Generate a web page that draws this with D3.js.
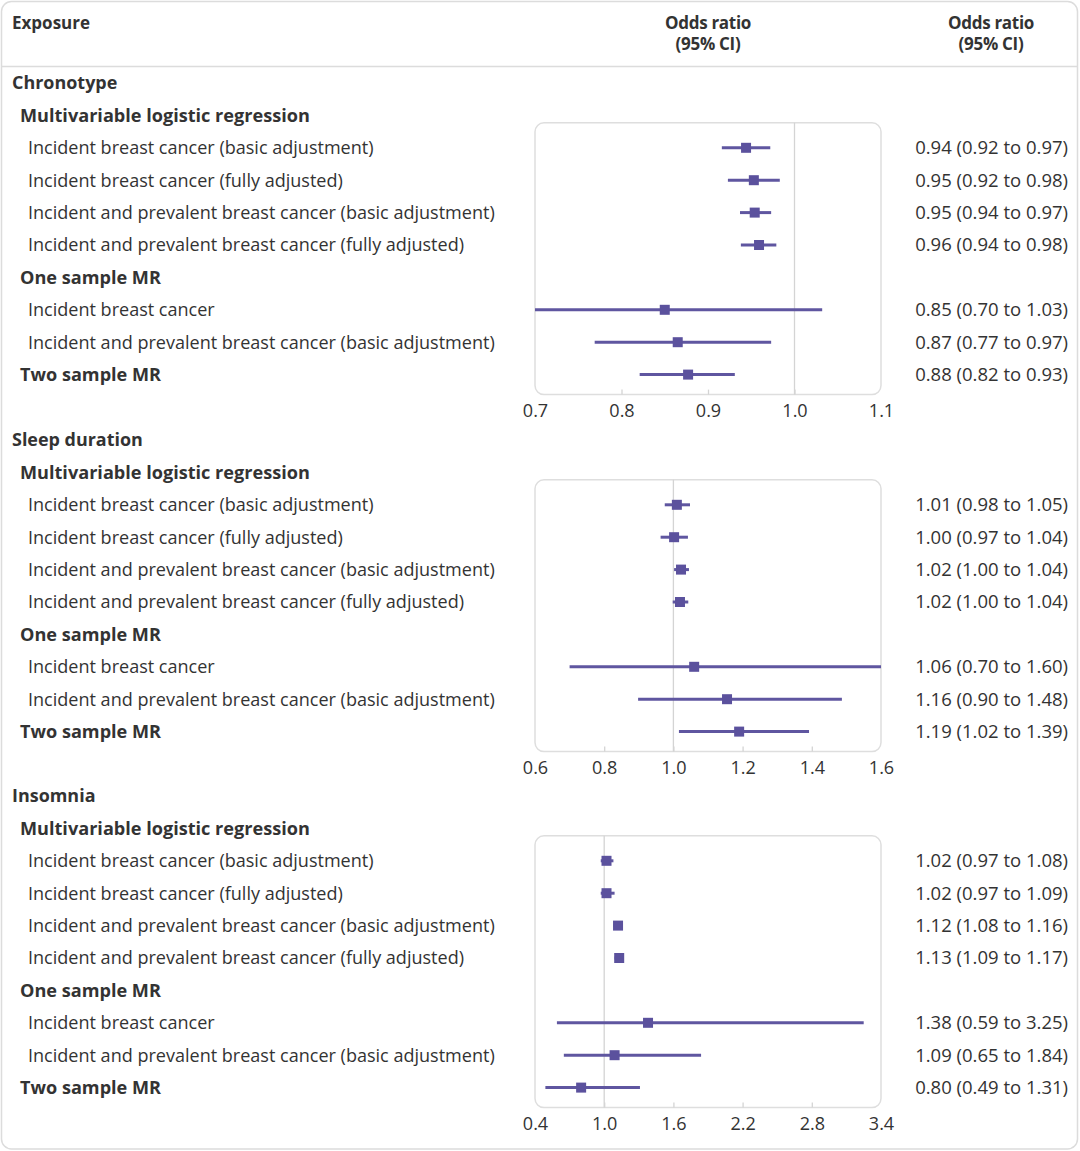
<!DOCTYPE html>
<html>
<head>
<meta charset="utf-8">
<script src="https://cdn.jsdelivr.net/npm/d3@7"></script>
<style>
  html, body { margin: 0; padding: 0; background: #fff; }
  svg { display: block; }
  text { font-family: "Open Sans", "Noto Sans", sans-serif; fill: #333; }
</style>
</head>
<body>
<svg id="chart" width="1080" height="1151"></svg>
<script>
// ---------------- DATA ----------------
const sections = ["Chronotype", "Sleep duration", "Insomnia"];

// row structure shared by all sections: "sub" = bold subheading without data,
// "item" = indented data row, "subdata" = bold subheading row that carries data
const rowLabels = [
  "Multivariable logistic regression",
  "Incident breast cancer (basic adjustment)",
  "Incident breast cancer (fully adjusted)",
  "Incident and prevalent breast cancer (basic adjustment)",
  "Incident and prevalent breast cancer (fully adjusted)",
  "One sample MR",
  "Incident breast cancer",
  "Incident and prevalent breast cancer (basic adjustment)",
  "Two sample MR"
];
const rowTypes = ["sub", "item", "item", "item", "item", "sub", "item", "item", "subdata"];

// plotted estimates and 95% CI per section (7 data rows each)
const chronotypeOR = [0.944, 0.953, 0.954, 0.959, 0.850, 0.865, 0.877];
const chronotypeLo = [0.916, 0.923, 0.937, 0.938, 0.700, 0.769, 0.821];
const chronotypeHi = [0.972, 0.983, 0.973, 0.979, 1.032, 0.973, 0.931];

const sleepOR = [1.010, 1.002, 1.022, 1.019, 1.060, 1.155, 1.190];
const sleepLo = [0.975, 0.963, 1.002, 0.998, 0.700, 0.898, 1.016];
const sleepHi = [1.048, 1.042, 1.045, 1.043, 1.600, 1.487, 1.392];

const insomniaOR = [1.02, 1.02, 1.12, 1.13, 1.38, 1.09, 0.80];
const insomniaLo = [0.97, 0.97, 1.08, 1.09, 0.59, 0.65, 0.49];
const insomniaHi = [1.08, 1.09, 1.16, 1.17, 3.25, 1.84, 1.31];

// printed estimates (95% CI) column
const chronotypeText = [
  "0.94 (0.92 to 0.97)", "0.95 (0.92 to 0.98)", "0.95 (0.94 to 0.97)", "0.96 (0.94 to 0.98)",
  "0.85 (0.70 to 1.03)", "0.87 (0.77 to 0.97)", "0.88 (0.82 to 0.93)"
];
const sleepText = [
  "1.01 (0.98 to 1.05)", "1.00 (0.97 to 1.04)", "1.02 (1.00 to 1.04)", "1.02 (1.00 to 1.04)",
  "1.06 (0.70 to 1.60)", "1.16 (0.90 to 1.48)", "1.19 (1.02 to 1.39)"
];
const insomniaText = [
  "1.02 (0.97 to 1.08)", "1.02 (0.97 to 1.09)", "1.12 (1.08 to 1.16)", "1.13 (1.09 to 1.17)",
  "1.38 (0.59 to 3.25)", "1.09 (0.65 to 1.84)", "0.80 (0.49 to 1.31)"
];

const chronotypeTicks = [0.7, 0.8, 0.9, 1.0, 1.1];
const sleepTicks = [0.6, 0.8, 1.0, 1.2, 1.4, 1.6];
const insomniaTicks = [0.4, 1.0, 1.6, 2.2, 2.8, 3.4];

const headerExposure = "Exposure";
const headerOR = ["Odds ratio", "(95% CI)"];

const sectionData = [
  { or: chronotypeOR, lo: chronotypeLo, hi: chronotypeHi, txt: chronotypeText, ticks: chronotypeTicks },
  { or: sleepOR, lo: sleepLo, hi: sleepHi, txt: sleepText, ticks: sleepTicks },
  { or: insomniaOR, lo: insomniaLo, hi: insomniaHi, txt: insomniaText, ticks: insomniaTicks }
];

// ---------------- LAYOUT ----------------
const W = 1080, H = 1151;
const svg = d3.select("#chart");
const markColor = "#5b519d";
const lineColor = "#5f56a0";

const plotX0 = 535, plotX1 = 881;
const rowStep = 32.4;
const sectionTop = [83, 440, 796];
const valueRight = 1068;

// outer frame
svg.append("rect")
  .attr("x", 1.5).attr("y", 1.5).attr("width", W - 4).attr("height", H - 3.5)
  .attr("rx", 10).attr("fill", "none").attr("stroke", "#dcdcdc").attr("stroke-width", 1.5);

// header
svg.append("line").attr("x1", 1.5).attr("x2", W - 2.5).attr("y1", 66.5).attr("y2", 66.5)
  .attr("stroke", "#dcdcdc").attr("stroke-width", 1.5);

svg.append("text").attr("x", 12).attr("y", 23).attr("dy", "0.35em")
  .style("font-weight", "700").style("font-size", "17px").text(headerExposure);

[708, 991].forEach(cx => {
  headerOR.forEach((t, i) => {
    svg.append("text").attr("x", cx).attr("y", 23 + i * 21).attr("dy", "0.35em")
      .attr("text-anchor", "middle").style("font-weight", "700").style("font-size", "17px")
      .style("letter-spacing", "-0.3px").text(t);
  });
});

// fit font size to target width of a reference label
function fitSize(str, weight, targetW, base) {
  const t = svg.append("text").style("font-size", base + "px").style("font-weight", weight).text(str);
  const w = t.node().getComputedTextLength();
  t.remove();
  return base * targetW / w;
}
const itemSize = fitSize("Incident and prevalent breast cancer (basic adjustment)", 400, 467, 17);
const subSize = fitSize("Multivariable logistic regression", 700, 290, 17);
const secSize = fitSize("Sleep duration", 700, 131, 17);
const valSize = fitSize("0.94 (0.92 to 0.97)", 400, 153, 17);
const tickSize = itemSize;

sections.forEach((secName, si) => {
  const d = sectionData[si];
  const top = sectionTop[si];
  const g = svg.append("g");

  g.append("text").attr("x", 12).attr("y", top).attr("dy", "0.35em")
    .style("font-weight", "700").style("font-size", secSize + "px").text(secName);

  const rowY = i => top + rowStep * (i + 1);

  const x = d3.scaleLinear().domain([d.ticks[0], d.ticks[d.ticks.length - 1]]).range([plotX0, plotX1]);

  // labels
  rowLabels.forEach((lab, i) => {
    const isItem = rowTypes[i] === "item";
    g.append("text").attr("x", isItem ? 28 : 20).attr("y", rowY(i)).attr("dy", "0.35em")
      .style("font-weight", isItem ? "400" : "700")
      .style("font-size", (isItem ? itemSize : subSize) + "px")
      .text(lab);
  });

  // data row indices
  const dataRows = rowTypes.map((t, i) => t === "sub" ? -1 : i).filter(i => i >= 0);
  const boxTop = rowY(dataRows[0]) - 25;
  const boxBot = rowY(dataRows[dataRows.length - 1]) + 20;

  // panel box
  g.append("rect").attr("x", plotX0).attr("y", boxTop)
    .attr("width", plotX1 - plotX0).attr("height", boxBot - boxTop)
    .attr("rx", 9).attr("fill", "none").attr("stroke", "#dedede").attr("stroke-width", 1.5);

  // reference line at 1
  g.append("line").attr("x1", x(1)).attr("x2", x(1)).attr("y1", boxTop).attr("y2", boxBot)
    .attr("stroke", "#d4d4d4").attr("stroke-width", 1.3);

  // axis
  const axis = d3.axisBottom(x).tickValues(d.ticks).tickFormat(d3.format(".1f"))
    .tickSizeInner(-5).tickSizeOuter(0).tickPadding(10);
  const ag = g.append("g").attr("transform", `translate(0,${boxBot})`).call(axis);
  ag.select(".domain").remove();
  ag.selectAll(".tick line").attr("stroke", "#d4d4d4").attr("stroke-width", 1.3);
  ag.selectAll(".tick").filter(v => v === d.ticks[0] || v === d.ticks[d.ticks.length - 1])
    .select("line").remove();
  ag.selectAll(".tick text").style("font-size", tickSize + "px")
    .style("font-family", '"Open Sans", "Noto Sans", sans-serif').attr("fill", "#333");

  // CI lines & markers
  dataRows.forEach((ri, k) => {
    const y = rowY(ri);
    g.append("line").attr("x1", x(d.lo[k])).attr("x2", x(d.hi[k])).attr("y1", y).attr("y2", y)
      .attr("stroke", lineColor).attr("stroke-width", 3);
    g.append("rect").attr("x", x(d.or[k]) - 5).attr("y", y - 5).attr("width", 10).attr("height", 10)
      .attr("fill", markColor);
    g.append("text").attr("x", valueRight).attr("y", y).attr("dy", "0.35em")
      .attr("text-anchor", "end").style("font-size", valSize + "px")
      .text(d.txt[k]);
  });
});
</script>
</body>
</html>
